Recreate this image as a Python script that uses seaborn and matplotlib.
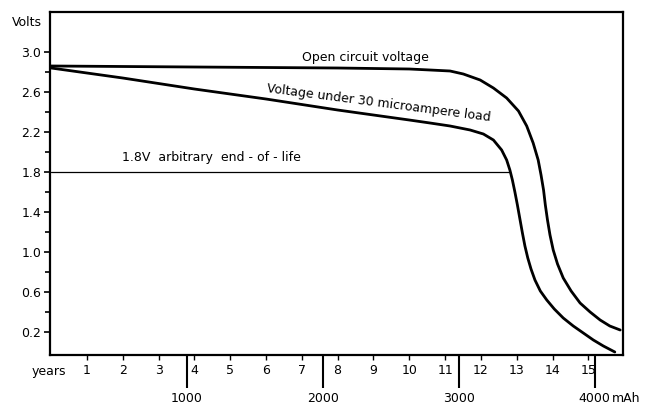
import numpy as np
import pandas as pd
import matplotlib
matplotlib.use('Agg')
import matplotlib.pyplot as plt
import seaborn as sns

# curves (x in years, y in volts)
ocv_years = [0, 2, 4, 6, 8, 10, 10.58, 11.14, 11.51, 11.98, 12.35, 12.72, 13.05, 13.28,
             13.46, 13.60, 13.68, 13.75, 13.80, 13.86, 13.93, 14.02, 14.14, 14.30, 14.52,
             14.77, 15.05, 15.33, 15.6, 15.89]
ocv_volts = [2.86, 2.855, 2.85, 2.845, 2.84, 2.83, 2.82, 2.81, 2.78, 2.72, 2.64, 2.54, 2.41,
             2.26, 2.09, 1.92, 1.77, 1.62, 1.47, 1.32, 1.17, 1.02, 0.88, 0.74, 0.61,
             0.49, 0.40, 0.32, 0.26, 0.22]

load_years = [0, 2, 4, 6, 8, 10, 10.58, 11.14, 11.70, 12.07, 12.35, 12.58, 12.72, 12.81,
              12.88, 12.95, 13.02, 13.09, 13.16, 13.23, 13.31, 13.40, 13.51, 13.66, 13.84,
              14.05, 14.30, 14.58, 14.86, 15.14, 15.42, 15.74]
load_volts = [2.84, 2.74, 2.63, 2.53, 2.42, 2.32, 2.29, 2.26, 2.22, 2.18, 2.12, 2.02, 1.92,
              1.82, 1.72, 1.60, 1.47, 1.33, 1.19, 1.06, 0.94, 0.83, 0.72, 0.61, 0.52,
              0.43, 0.34, 0.26, 0.19, 0.12, 0.06, 0.0]

eol_years = [0, 12.8]
eol_volts = [1.8, 1.8]

volt_ticks = [0.2, 0.6, 1.0, 1.4, 1.8, 2.2, 2.6, 3.0]
volt_minor = [0.4, 0.8, 1.2, 1.6, 2.0, 2.4, 2.8]
year_ticks = list(range(1, 16))
mah_ticks = [1000, 2000, 3000, 4000]
MAH_PER_YEAR = 263.5

df_ocv = pd.DataFrame({'years': ocv_years, 'volts': ocv_volts})
df_load = pd.DataFrame({'years': load_years, 'volts': load_volts})
df_eol = pd.DataFrame({'years': eol_years, 'volts': eol_volts})

sns.set_style('ticks')
plt.rcParams['font.family'] = ['DejaVu Sans']
plt.rcParams['font.size'] = 9
plt.rcParams['text.color'] = 'black'
plt.rcParams['xtick.color'] = 'black'
plt.rcParams['ytick.color'] = 'black'
plt.rcParams['xtick.labelcolor'] = 'black'
plt.rcParams['ytick.labelcolor'] = 'black'

fig = plt.figure(figsize=(6.45, 4.08), dpi=100)
ax = fig.add_axes([50 / 645, 1 - 355 / 408, (622.7 - 50) / 645, (355 - 12) / 408])

sns.lineplot(data=df_ocv, x='years', y='volts', ax=ax, color='black', linewidth=2.0,
             sort=False, estimator=None)
sns.lineplot(data=df_load, x='years', y='volts', ax=ax, color='black', linewidth=2.0,
             sort=False, estimator=None)
sns.lineplot(data=df_eol, x='years', y='volts', ax=ax, color='black', linewidth=0.9,
             sort=False, estimator=None)

ax.set_xlim(-0.03, 15.96)
ax.set_ylim(-0.03, 3.40)
ax.set_xlabel('')
ax.set_ylabel('')

for s in ax.spines.values():
    s.set_visible(True)
    s.set_linewidth(1.6)
    s.set_color('black')

# tick lengths and pads are in points (1 px = 0.72 pt here)
ax.set_yticks(volt_ticks)
ax.set_yticklabels([f'{v:.1f}' for v in volt_ticks])
ax.set_yticks(volt_minor, minor=True)
ax.tick_params(axis='y', which='major', length=4.3, width=1.2, direction='out', pad=2)
ax.tick_params(axis='y', which='minor', length=3.6, width=1.2, direction='out')

ax.set_xticks(year_ticks)
ax.set_xticklabels([str(y) for y in year_ticks])
ax.tick_params(axis='x', which='major', length=3.6, width=1.0, direction='out', pad=3)

sec = ax.secondary_xaxis('bottom', functions=(lambda y: y * MAH_PER_YEAR,
                                              lambda m: m / MAH_PER_YEAR))
sec.set_xticks(mah_ticks)
sec.set_xticklabels([str(m) for m in mah_ticks])
sec.tick_params(axis='x', length=24, width=1.5, direction='out', pad=2.5,
                colors='black')
sec.spines['bottom'].set_visible(False)

ax.text(8.79, 2.94, 'Open circuit voltage', ha='center', va='center')
ax.text(9.14, 2.49, 'Voltage under 30 microampere load', ha='center', va='center',
        rotation=-7.4, rotation_mode='anchor')
ax.text(4.47, 1.94, '1.8V  arbitrary  end - of - life', ha='center', va='center')

fig.text(42 / 645, 1 - 22 / 408, 'Volts', ha='right', va='center')
fig.text(32 / 645, 1 - 372 / 408, 'years', ha='left', va='center')
fig.text(626 / 645, 1 - 398 / 408, 'mAh', ha='center', va='center')

fig.savefig('out.png', dpi=100)
